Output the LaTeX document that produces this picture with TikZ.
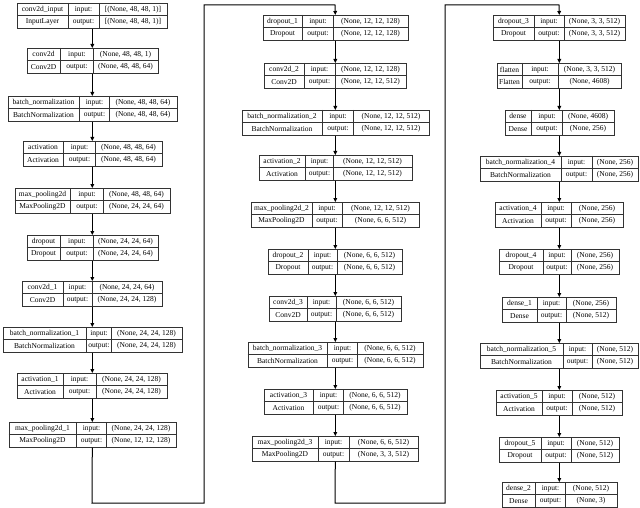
\documentclass[tikz,border=0pt]{standalone}
\usepackage{fontspec}
\setmainfont{Liberation Serif}
\usetikzlibrary{arrows.meta}
\tikzset{
  box/.style={draw=black!80, line width=0.6pt, inner sep=0pt, fill=white},
  cell/.style={draw=black!80, line width=0.5pt},
  txt/.style={inner sep=0pt, font=\fontsize{7.5}{8}\selectfont},
  conn/.style={draw=black, line width=1pt},
  arr/.style={conn, -{Triangle[length=4pt,width=3.6pt]}}
}
\newcommand\lay[6]{\def\Lid{#1}\def\Lcx{#2}\def\Lyt{#3}\def\LW{#4}\def\Loa{#5}\def\Lob{#6}\layB}
\newcommand\layB[4]{%
  \pgfmathsetmacro\LL{\Lcx-\LW/2}%
  \pgfmathsetmacro\LR{\Lcx+\LW/2}%
  \pgfmathsetmacro\Lyb{\Lyt+25}%
  \pgfmathsetmacro\Lym{\Lyt+12.5}%
  \pgfmathsetmacro\Lda{\LL+\Loa}%
  \pgfmathsetmacro\Ldb{\LL+\Lob}%
  \pgfmathsetmacro\Lra{\Lyt+6.4}%
  \pgfmathsetmacro\Lrb{\Lyt+18.9}%
  \pgfmathsetmacro\Lxa{(\LL+\Lda)/2}%
  \pgfmathsetmacro\Lxb{(\Lda+\Ldb)/2}%
  \pgfmathsetmacro\Lxc{(\Ldb+\LR)/2}%
  \node[box, minimum width=\LW pt, minimum height=25pt, anchor=north west] (\Lid) at (\LL,\Lyt) {};
  \draw[cell] (\LL,\Lym) -- (\LR,\Lym) (\Lda,\Lyt) -- (\Lda,\Lyb) (\Ldb,\Lyt) -- (\Ldb,\Lyb);
  \node[txt] (\Lid-name) at (\Lxa,\Lra) {#1};
  \node[txt] (\Lid-type) at (\Lxa,\Lrb) {#2};
  \node[txt] (\Lid-in) at (\Lxb,\Lra) {input:};
  \node[txt] (\Lid-out) at (\Lxb,\Lrb) {output:};
  \node[txt] (\Lid-ish) at (\Lxc,\Lra) {#3};
  \node[txt] (\Lid-osh) at (\Lxc,\Lrb) {#4};
}
\begin{document}
\begin{tikzpicture}[x=1pt,y=-1pt]
\useasboundingbox[fill=white] (0,0) rectangle (640,508);
% column 1
\lay{n1}{92}{3}{150}{51}{82}{conv2d\_input}{InputLayer}{[(None, 48, 48, 1)]}{[(None, 48, 48, 1)]}
\lay{n2}{92}{48}{131}{34}{67}{conv2d}{Conv2D}{(None, 48, 48, 1)}{(None, 48, 48, 64)}
\lay{n3}{92}{96}{169}{72}{102}{batch\_normalization}{BatchNormalization}{(None, 48, 48, 64)}{(None, 48, 48, 64)}
\lay{n4}{92}{141}{139}{41}{73}{activation}{Activation}{(None, 48, 48, 64)}{(None, 48, 48, 64)}
\lay{n5}{92}{188}{155}{56}{89}{max\_pooling2d}{MaxPooling2D}{(None, 48, 48, 64)}{(None, 24, 24, 64)}
\lay{n6}{92}{235}{131}{34}{67}{dropout}{Dropout}{(None, 24, 24, 64)}{(None, 24, 24, 64)}
\lay{n7}{92}{281}{140}{41}{70}{conv2d\_1}{Conv2D}{(None, 24, 24, 64)}{(None, 24, 24, 128)}
\lay{n8}{92}{327}{179}{84}{109}{batch\_normalization\_1}{BatchNormalization}{(None, 24, 24, 128)}{(None, 24, 24, 128)}
\lay{n9}{92}{373}{150}{46}{79}{activation\_1}{Activation}{(None, 24, 24, 128)}{(None, 24, 24, 128)}
\lay{n10}{92}{422}{167}{68}{98}{max\_pooling2d\_1}{MaxPooling2D}{(None, 24, 24, 128)}{(None, 12, 12, 128)}
% column 2
\lay{m1}{335}{15}{145}{40}{71}{dropout\_1}{Dropout}{(None, 12, 12, 128)}{(None, 12, 12, 128)}
\lay{m2}{335}{63}{142}{40}{71}{conv2d\_2}{Conv2D}{(None, 12, 12, 128)}{(None, 12, 12, 512)}
\lay{m3}{335}{110}{187}{81}{112}{batch\_normalization\_2}{BatchNormalization}{(None, 12, 12, 512)}{(None, 12, 12, 512)}
\lay{m4}{335}{155}{153}{47}{75}{activation\_2}{Activation}{(None, 12, 12, 512)}{(None, 12, 12, 512)}
\lay{m5}{335}{202}{168}{61}{91}{max\_pooling2d\_2}{MaxPooling2D}{(None, 12, 12, 512)}{(None, 6, 6, 512)}
\lay{m6}{335}{249}{134}{40}{69}{dropout\_2}{Dropout}{(None, 6, 6, 512)}{(None, 6, 6, 512)}
\lay{m7}{335}{296}{132}{38}{67}{conv2d\_3}{Conv2D}{(None, 6, 6, 512)}{(None, 6, 6, 512)}
\lay{m8}{335}{342}{175}{80}{110}{batch\_normalization\_3}{BatchNormalization}{(None, 6, 6, 512)}{(None, 6, 6, 512)}
\lay{m9}{335}{389}{143}{50}{80}{activation\_3}{Activation}{(None, 6, 6, 512)}{(None, 6, 6, 512)}
\lay{m10}{335}{436}{166}{66}{97}{max\_pooling2d\_3}{MaxPooling2D}{(None, 6, 6, 512)}{(None, 3, 3, 512)}
% column 3
\lay{k1}{559}{15}{132}{41}{71}{dropout\_3}{Dropout}{(None, 3, 3, 512)}{(None, 3, 3, 512)}
\lay{k2}{559}{63}{124}{25}{61}{flatten}{Flatten}{(None, 3, 3, 512)}{(None, 4608)}
\lay{k3}{559}{110}{109}{27}{58}{dense}{Dense}{(None, 4608)}{(None, 256)}
\lay{k4}{559}{156}{158}{81}{112}{batch\_normalization\_4}{BatchNormalization}{(None, 256)}{(None, 256)}
\lay{k5}{559}{202}{128}{46}{76}{activation\_4}{Activation}{(None, 256)}{(None, 256)}
\lay{k6}{559}{249}{120}{44}{72}{dropout\_4}{Dropout}{(None, 256)}{(None, 256)}
\lay{k7}{559}{297}{114}{35}{64}{dense\_1}{Dense}{(None, 256)}{(None, 512)}
\lay{k8}{559}{343}{158}{83}{112}{batch\_normalization\_5}{BatchNormalization}{(None, 512)}{(None, 512)}
\lay{k9}{559}{390}{126}{46}{76}{activation\_5}{Activation}{(None, 512)}{(None, 512)}
\lay{k10}{559}{437}{120}{42}{72}{dropout\_5}{Dropout}{(None, 512)}{(None, 512)}
\lay{k11}{559}{482}{115}{34}{64}{dense\_2}{Dense}{(None, 512)}{(None, 3)}
% short connectors
\foreach \a/\b in {n1/n2,n2/n3,n3/n4,n4/n5,n5/n6,n6/n7,n7/n8,n8/n9,n9/n10,
  m1/m2,m2/m3,m3/m4,m4/m5,m5/m6,m6/m7,m7/m8,m8/m9,m9/m10,
  k1/k2,k2/k3,k3/k4,k4/k5,k5/k6,k6/k7,k7/k8,k8/k9,k9/k10,k10/k11}
  \draw[arr] (\a.south) -- (\b.north);
% long connectors
\coordinate (p1) at (92,503);
\coordinate (p2) at (204,503);
\coordinate (p3) at (204,5);
\coordinate (p4) at (335,5);
\coordinate (q1) at (335,503);
\coordinate (q2) at (445,503);
\coordinate (q3) at (445,5);
\coordinate (q4) at (559,5);
\draw[arr] (n10.south) -- (p1) -- (p2) -- (p3) -- (p4) -- (m1.north);
\draw[arr] (m10.south) -- (q1) -- (q2) -- (q3) -- (q4) -- (k1.north);
\end{tikzpicture}
\end{document}
